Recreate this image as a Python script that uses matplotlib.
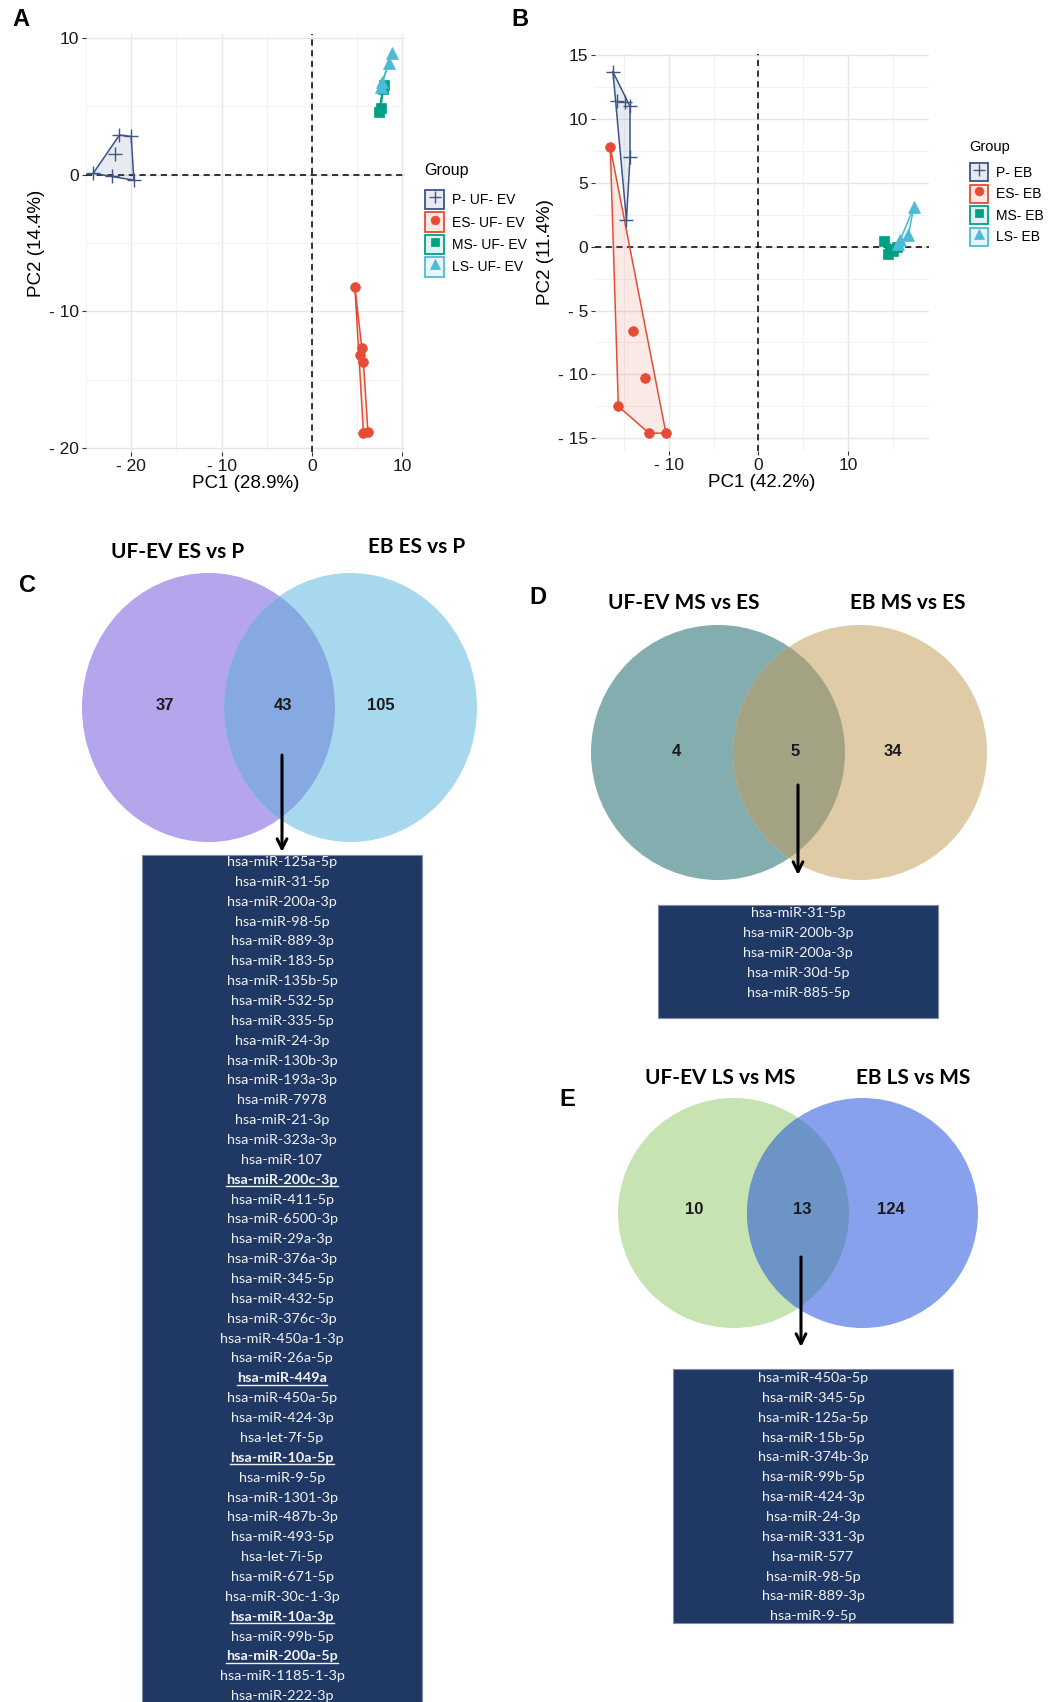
#!/usr/bin/env python
# coding=utf-8
"""
PCA of miRNA profiles (UF-EV and EB) plus Venn diagrams of the DE miRNAs shared between them.
"""
import sys
import matplotlib
matplotlib.use('Agg')
import matplotlib.pyplot as plt
from matplotlib.patches import Ellipse, Rectangle, Patch
from matplotlib.lines import Line2D
from matplotlib.legend_handler import HandlerTuple
from matplotlib.ticker import FixedLocator, FuncFormatter

GOOD_RET = 0

# figure size in pixels
W = 1049
H = 1702
DPI = 100

# ---------------- PCA data ----------------
a_p_x = [-24.2, -21.3, -20.0, -21.8, -22.1, -19.7]
a_p_y = [0.1, 2.9, 2.8, 1.5, -0.1, -0.4]
a_es_x = [4.75, 5.5, 5.3, 5.7, 5.7, 6.2]
a_es_y = [-8.2, -12.7, -13.2, -13.7, -18.9, -18.8]
a_ms_x = [7.4, 7.6, 8.0, 7.85]
a_ms_y = [4.6, 4.9, 6.6, 6.3]
a_ls_x = [8.9, 8.5, 7.8, 7.6]
a_ls_y = [8.9, 8.2, 6.8, 6.4]

b_p_x = [-16.2, -14.9, -14.3, -15.8, -14.3, -14.7]
b_p_y = [13.7, 11.35, 11.0, 11.4, 7.0, 2.1]
b_es_x = [-16.5, -14.0, -12.6, -15.6, -12.2, -10.3]
b_es_y = [7.8, -6.6, -10.25, -12.5, -14.6, -14.6]
b_ms_x = [14.0, 14.4, 15.0, 15.4, 14.7]
b_ms_y = [0.45, -0.6, -0.35, -0.05, -0.2]
b_ls_x = [17.3, 16.7, 15.8, 15.6]
b_ls_y = [3.1, 0.9, 0.5, 0.2]

a_labels = ['P- UF- EV', 'ES- UF- EV', 'MS- UF- EV', 'LS- UF- EV']
b_labels = ['P- EB', 'ES- EB', 'MS- EB', 'LS- EB']
a_xlabel = 'PC1 (28.9%)'
a_ylabel = 'PC2 (14.4%)'
b_xlabel = 'PC1 (42.2%)'
b_ylabel = 'PC2 (11.4%)'
a_xticks = [-20, -10, 0, 10]
a_yticks = [-20, -10, 0, 10]
b_xticks = [-10, 0, 10]
b_yticks = [-15, -10, -5, 0, 5, 10, 15]

# ---------------- Venn data ----------------
c_titles = ['UF-EV ES vs P', 'EB ES vs P']
c_counts = [37, 43, 105]
d_titles = ['UF-EV MS vs ES', 'EB MS vs ES']
d_counts = [4, 5, 34]
e_titles = ['UF-EV LS vs MS', 'EB LS vs MS']
e_counts = [10, 13, 124]

c_mirnas = ['hsa-miR-125a-5p', 'hsa-miR-31-5p', 'hsa-miR-200a-3p', 'hsa-miR-98-5p', 'hsa-miR-889-3p',
            'hsa-miR-183-5p', 'hsa-miR-135b-5p', 'hsa-miR-532-5p', 'hsa-miR-335-5p', 'hsa-miR-24-3p',
            'hsa-miR-130b-3p', 'hsa-miR-193a-3p', 'hsa-miR-7978', 'hsa-miR-21-3p', 'hsa-miR-323a-3p',
            'hsa-miR-107', 'hsa-miR-200c-3p', 'hsa-miR-411-5p', 'hsa-miR-6500-3p', 'hsa-miR-29a-3p',
            'hsa-miR-376a-3p', 'hsa-miR-345-5p', 'hsa-miR-432-5p', 'hsa-miR-376c-3p', 'hsa-miR-450a-1-3p',
            'hsa-miR-26a-5p', 'hsa-miR-449a', 'hsa-miR-450a-5p', 'hsa-miR-424-3p', 'hsa-let-7f-5p',
            'hsa-miR-10a-5p', 'hsa-miR-9-5p', 'hsa-miR-1301-3p', 'hsa-miR-487b-3p', 'hsa-miR-493-5p',
            'hsa-let-7i-5p', 'hsa-miR-671-5p', 'hsa-miR-30c-1-3p', 'hsa-miR-10a-3p', 'hsa-miR-99b-5p',
            'hsa-miR-200a-5p', 'hsa-miR-1185-1-3p', 'hsa-miR-222-3p']
c_highlight = ['hsa-miR-200c-3p', 'hsa-miR-449a', 'hsa-miR-10a-5p', 'hsa-miR-10a-3p', 'hsa-miR-200a-5p']
d_mirnas = ['hsa-miR-31-5p', 'hsa-miR-200b-3p', 'hsa-miR-200a-3p', 'hsa-miR-30d-5p', 'hsa-miR-885-5p']
e_mirnas = ['hsa-miR-450a-5p', 'hsa-miR-345-5p', 'hsa-miR-125a-5p', 'hsa-miR-15b-5p', 'hsa-miR-374b-3p',
            'hsa-miR-99b-5p', 'hsa-miR-424-3p', 'hsa-miR-24-3p', 'hsa-miR-331-3p', 'hsa-miR-577',
            'hsa-miR-98-5p', 'hsa-miR-889-3p', 'hsa-miR-9-5p']

# styles
group_colors = ['#3C5488', '#E64B35', '#00A087', '#4DBBD5']
group_markers = ['+', 'o', 's', '^']
group_msize = [10, 7, 6.5, 8]
box_color = '#1F3864'
list_font = 'Lato'
num_font = 'Liberation Sans'

plt.rcParams['font.family'] = num_font


def convex_hull(xs, ys):
    # Andrew's monotone chain, returns closed list of vertices
    pts = sorted(set(zip(xs, ys)))
    if len(pts) < 3:
        return pts + pts[:1]

    def cross(o, a, b):
        return (a[0] - o[0]) * (b[1] - o[1]) - (a[1] - o[1]) * (b[0] - o[0])

    lower = []
    for p in pts:
        while len(lower) >= 2 and cross(lower[-2], lower[-1], p) <= 0:
            lower.pop()
        lower.append(p)
    upper = []
    for p in reversed(pts):
        while len(upper) >= 2 and cross(upper[-2], upper[-1], p) <= 0:
            upper.pop()
        upper.append(p)
    hull = lower[:-1] + upper[:-1]
    return hull + hull[:1]


def px_rect(left, top, right, bottom):
    return [left / W, 1 - bottom / H, (right - left) / W, (bottom - top) / H]


def minus_fmt(v, pos):
    if v < 0:
        return '- %d' % abs(v)
    return '%d' % v


def pca_panel(fig, rect, groups, labels, xlim, ylim, xticks, yticks, xlabel, ylabel,
              title_xy, title_fs, leg_xy, leg_fs, key_h, key_w):
    ax = fig.add_axes(rect)
    ax.set_xlim(xlim)
    ax.set_ylim(ylim)
    ax.xaxis.set_major_locator(FixedLocator(xticks))
    ax.yaxis.set_major_locator(FixedLocator(yticks))
    xstep = xticks[1] - xticks[0]
    ystep = yticks[1] - yticks[0]
    ax.xaxis.set_minor_locator(FixedLocator([t + xstep / 2.0 for t in [xticks[0] - xstep] + xticks]))
    ax.yaxis.set_minor_locator(FixedLocator([t + ystep / 2.0 for t in [yticks[0] - ystep] + yticks]))
    ax.xaxis.set_major_formatter(FuncFormatter(minus_fmt))
    ax.yaxis.set_major_formatter(FuncFormatter(minus_fmt))
    ax.grid(which='major', color='#E6E6E6', lw=1.0)
    ax.grid(which='minor', color='#F2F2F2', lw=0.7)
    ax.set_axisbelow(True)
    for s in ax.spines.values():
        s.set_visible(False)
    ax.tick_params(which='major', length=3, width=0.8, color='#333333', labelsize=12.5,
                   labelcolor='#1a1a1a', pad=2)
    ax.tick_params(which='minor', length=0)
    ax.axhline(0, color='black', lw=1.1, ls=(0, (4, 3)), zorder=2)
    ax.axvline(0, color='black', lw=1.1, ls=(0, (4, 3)), zorder=2)

    handles = []
    for (xs, ys), c, m, ms in zip(groups, group_colors, group_markers, group_msize):
        hull = convex_hull(xs, ys)
        hx = [p[0] for p in hull]
        hy = [p[1] for p in hull]
        ax.fill(hx, hy, color=c, alpha=0.12, lw=0, zorder=3)
        ax.plot(hx, hy, color=c, lw=1.1, zorder=4)
        ax.plot(xs, ys, ls='none', marker=m, color=c, ms=ms, mew=1.0 if m == '+' else 0.5, zorder=5)
        handles.append((Patch(facecolor=matplotlib.colors.to_rgba(c, 0.12), edgecolor=c, lw=1.3),
                        Line2D([], [], ls='none', marker=m, color=c, ms=ms * 0.9, mew=1.0 if m == '+' else 0.5)))

    ax.set_xlabel(xlabel, fontsize=13.5, labelpad=1)
    ax.set_ylabel(ylabel, fontsize=13.5, labelpad=3)

    # legend title drawn separately so its gap to the keys matches
    fig.text(title_xy[0] / W, 1 - title_xy[1] / H, 'Group', ha='left', va='center', fontsize=title_fs)
    leg = ax.legend(handles, labels, handler_map={tuple: HandlerTuple(ndivide=1)},
                    loc='upper left', bbox_to_anchor=(leg_xy[0] / W, 1 - leg_xy[1] / H),
                    bbox_transform=fig.transFigure, frameon=False, handlelength=key_w, handleheight=key_h,
                    handletextpad=0.6, labelspacing=0.25, borderpad=0, borderaxespad=0,
                    prop={'size': leg_fs})
    return ax


def venn(ax, titles, counts, colors, centers, size, title_pos, num_x, num_y):
    (cx1, cy), (cx2, _) = centers
    w, h = size
    left = Ellipse((cx1, cy), w, h, facecolor=colors[0], edgecolor='none', zorder=1)
    right = Ellipse((cx2, cy), w, h, facecolor=colors[1], edgecolor='none', zorder=1)
    ax.add_patch(left)
    ax.add_patch(right)
    inter = Ellipse((cx1, cy), w, h, facecolor=colors[2], edgecolor='none', zorder=2)
    ax.add_patch(inter)
    inter.set_clip_path(right)
    for t, (tx, ty) in zip(titles, title_pos):
        ax.text(tx, ty, t, ha='center', va='center', fontsize=15, fontweight='bold', family=list_font)
    for n, x in zip(counts, num_x):
        ax.text(x, num_y, str(n), ha='center', va='center', fontsize=12, fontweight='bold',
                color='#1a1a1a', zorder=3)


def mirna_box(ax, names, bold, left, top, right, bottom, first, step):
    ax.add_patch(Rectangle((left, top), right - left, bottom - top, facecolor=box_color,
                           edgecolor='#7F8CA3', lw=0.8, zorder=1))
    texts = []
    xc = (left + right) / 2.0
    for i, name in enumerate(names):
        is_bold = name in bold
        t = ax.text(xc, top + first + i * step, name, ha='center', va='center', fontsize=10.4,
                    family=list_font, color='#F2F2F2', fontweight='bold' if is_bold else 'normal', zorder=2)
        if is_bold:
            texts.append(t)
    return texts


def arrow(ax, x, y0, y1):
    ax.annotate('', xy=(x, y1), xytext=(x, y0),
                arrowprops=dict(arrowstyle='->,head_length=0.7,head_width=0.35', color='black', lw=2.2,
                                shrinkA=0, shrinkB=0), zorder=4)


def make_figure(name):
    fig = plt.figure(figsize=(W / DPI, H / DPI), dpi=DPI)
    fig.patch.set_facecolor('white')

    # overlay axes in pixel coordinates for venn diagrams, boxes and panel letters
    ax0 = fig.add_axes([0, 0, 1, 1])
    ax0.set_xlim(0, W)
    ax0.set_ylim(H, 0)
    ax0.set_axis_off()

    pca_panel(fig, px_rect(86, 34, 405, 452),
              [(a_p_x, a_p_y), (a_es_x, a_es_y), (a_ms_x, a_ms_y), (a_ls_x, a_ls_y)],
              a_labels, (-25.0, 10.3), (-20.3, 10.3), a_xticks, a_yticks, a_xlabel, a_ylabel,
              (424, 170), 11.5, (425, 190), 10, 1.73, 1.37)
    pca_panel(fig, px_rect(595, 54, 929, 451),
              [(b_p_x, b_p_y), (b_es_x, b_es_y), (b_ms_x, b_ms_y), (b_ls_x, b_ls_y)],
              b_labels, (-18.2, 19.0), (-16.0, 15.1), b_xticks, b_yticks, b_xlabel, b_ylabel,
              (969, 147), 10.5, (970, 163), 10, 1.62, 1.3)

    for letter, (x, y) in zip('ABCDE', [(21, 20), (520, 20), (28, 585), (538, 598), (567, 1099)]):
        ax0.text(x, y, letter, ha='center', va='center', fontsize=17, fontweight='bold')

    venn(ax0, c_titles, c_counts, ['#B4A5EC', '#A8D8EE', '#87A9E2'],
         [(208.5, 707.5), (350.5, 707.5)], (253, 269), [(178, 552), (417, 547)], [165, 283, 381], 705)
    venn(ax0, d_titles, d_counts, ['#84ADB0', '#DFCCA6', '#A3A384'],
         [(718, 752.5), (860, 752.5)], (254, 255), [(684, 603), (908, 603)], [676, 795, 893], 751)
    venn(ax0, e_titles, e_counts, ['#C6E3B1', '#88A1EC', '#6D94C7'],
         [(733.5, 1213), (862.5, 1213)], (231, 230), [(720, 1078), (913, 1078)], [694, 802, 891], 1210)

    arrow(ax0, 282, 755, 852)
    arrow(ax0, 798, 785, 875)
    arrow(ax0, 801, 1257, 1347)

    bold_texts = mirna_box(ax0, c_mirnas, c_highlight, 142, 855, 422, H + 20, 7, 19.86)
    mirna_box(ax0, d_mirnas, [], 658, 905, 938, 1018, 8, 20)
    mirna_box(ax0, e_mirnas, [], 673, 1369, 953, 1623, 9, 19.86)

    # underline the highlighted miRNAs
    fig.canvas.draw()
    renderer = fig.canvas.get_renderer()
    inv = ax0.transData.inverted()
    for t in bold_texts:
        bb = t.get_window_extent(renderer)
        x0, _ = inv.transform((bb.x0, bb.y0))
        x1, _ = inv.transform((bb.x1, bb.y0))
        y = t.get_position()[1] + 6.5
        ax0.plot([x0, x1], [y, y], color='#F2F2F2', lw=1.0, zorder=3)

    fig.savefig(name, dpi=DPI)


def main():
    make_figure('out.png')
    return GOOD_RET


if __name__ == '__main__':
    status = main()
    sys.exit(status)
